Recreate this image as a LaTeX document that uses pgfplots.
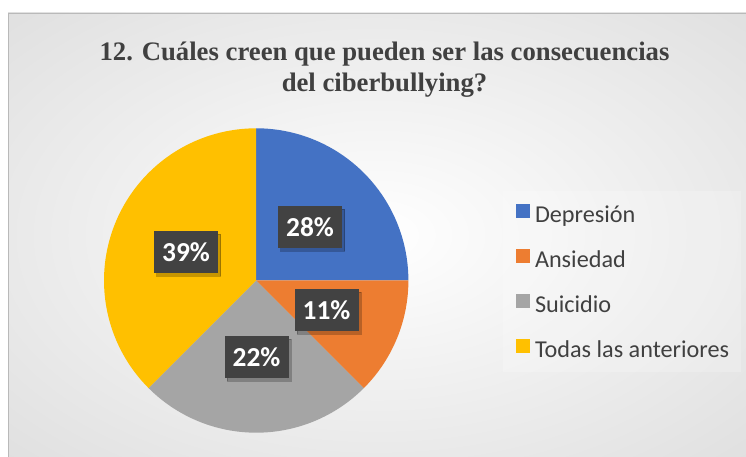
\documentclass[border=0pt]{standalone}
\usepackage{pgfplots}
\pgfplotsset{compat=1.18}
\usepackage{fontspec}
\setmainfont{Carlito}
\newfontfamily\titlefont{Liberation Serif}
\usetikzlibrary{shadows}

\definecolor{cDep}{HTML}{4472C4}
\definecolor{cAns}{HTML}{ED7D31}
\definecolor{cSui}{HTML}{A5A5A5}
\definecolor{cTod}{HTML}{FFC000}
\definecolor{lblbox}{HTML}{424242}
\definecolor{txtgray}{HTML}{404040}
\definecolor{bgA}{HTML}{EFEFEF}
\definecolor{bgB}{HTML}{D8D8D8}
\definecolor{bgC}{HTML}{C4C4C4}

\pgfdeclareradialshading{bgshade}{\pgfpoint{0bp}{0bp}}{%
  color(0bp)=(white); color(18bp)=(bgA); color(45bp)=(bgB); color(72bp)=(bgC)}

% slice shares as drawn (percent of the circle)
\def\sDep{25}
\def\sAns{12.5}
\def\sSui{25}
\def\sTod{37.5}
\pgfmathsetmacro{\eDep}{\sDep}
\pgfmathsetmacro{\eAns}{\eDep+\sAns}
\pgfmathsetmacro{\eSui}{\eAns+\sSui}
\pgfmathsetmacro{\eTod}{\eSui+\sTod}
\def\cx{256.2}
\def\cy{280.5}
\def\rr{152.2}

\begin{document}
\begin{tikzpicture}[x=1bp,y=1bp]
\useasboundingbox (0,0) rectangle (746,457);
\fill[white] (0,0) rectangle (746,457);
\shade[shading=bgshade] (8,0) rectangle (746,444);
\draw[gray!55, line width=0.8bp] (8,0) -- (8,444) -- (746,444);
% legend panel
\fill[white, opacity=0.2] (503,85) rectangle (741,266);
% title
\node[anchor=base, text=txtgray, font=\titlefont\bfseries\fontsize{26.8}{31}\selectfont, inner sep=0pt] at (384.5,396.3) {12. Cuáles creen que pueden ser las consecuencias};
\node[anchor=base, text=txtgray, font=\titlefont\bfseries\fontsize{26.8}{31}\selectfont, inner sep=0pt] at (384.5,365) {del ciberbullying?};

\begin{axis}[
  at={(0,0)}, anchor=south west,
  scale only axis, width=746bp, height=457bp,
  xmin=0, xmax=746, ymin=0, ymax=457, y dir=reverse,
  hide axis, clip=false,
  legend style={at={(axis cs:516,204.5)}, anchor=north west, draw=none, fill=none,
    inner sep=0pt, outer sep=0pt, row sep=21.2bp,
    font=\fontsize{24.3}{28}\selectfont, text=txtgray,
    nodes={inner sep=0pt, text height=15bp, text depth=5bp},
    /tikz/every odd column/.append style={column sep=5bp}},
  legend cell align=left,
  legend image code/.code={\fill[#1] (0bp,-0.5bp) rectangle (14bp,13.5bp);},
]
\addplot[fill=cDep, draw=none, domain=0:\eDep, samples=60, variable=\t]
  ({\cx+\rr*sin(3.6*\t)}, {\cy-\rr*cos(3.6*\t)}) -- (axis cs:\cx,\cy) -- cycle;
\addlegendentry{Depresión}
\addplot[fill=cAns, draw=none, domain=\eDep:\eAns, samples=40, variable=\t]
  ({\cx+\rr*sin(3.6*\t)}, {\cy-\rr*cos(3.6*\t)}) -- (axis cs:\cx,\cy) -- cycle;
\addlegendentry{Ansiedad}
\addplot[fill=cSui, draw=none, domain=\eAns:\eSui, samples=60, variable=\t]
  ({\cx+\rr*sin(3.6*\t)}, {\cy-\rr*cos(3.6*\t)}) -- (axis cs:\cx,\cy) -- cycle;
\addlegendentry{Suicidio}
\addplot[fill=cTod, draw=none, domain=\eSui:\eTod, samples=80, variable=\t]
  ({\cx+\rr*sin(3.6*\t)}, {\cy-\rr*cos(3.6*\t)}) -- (axis cs:\cx,\cy) -- cycle;
\addlegendentry{Todas las anteriores}
% data labels
\addplot[forget plot, only marks, mark=*, mark size=0pt, mark options={draw=none, fill=none},
  nodes near coords, point meta=explicit symbolic,
  every node near coord/.style={anchor=center, draw=none, fill=lblbox, text=white,
    font=\bfseries\fontsize{27.5}{32}\selectfont,
    minimum width=64bp, minimum height=42bp, inner sep=0pt,
    general shadow={shadow xshift=2.5bp, shadow yshift=-3bp, fill=black, opacity=0.22}}]
  coordinates {(310,227)[28\%] (326.5,310)[11\%] (256.5,357)[22\%] (186,252)[39\%]};
\end{axis}
\end{tikzpicture}
\end{document}
